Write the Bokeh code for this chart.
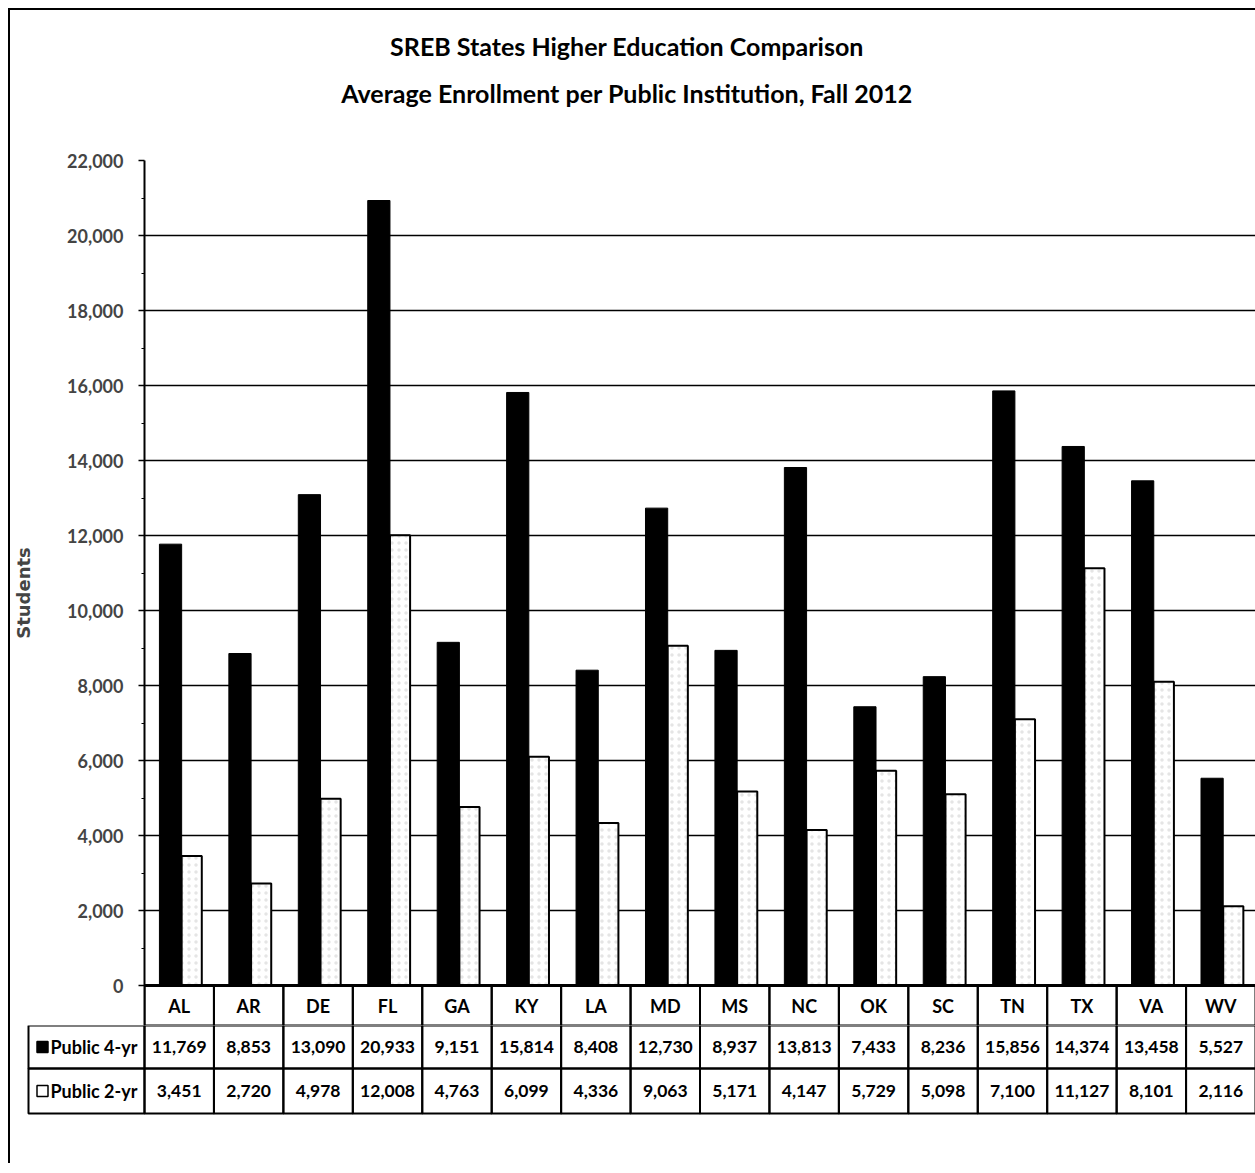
from bokeh.plotting import figure
from bokeh.models import (ColumnDataSource, FactorRange, Range1d, FixedTicker,
                          NumeralTickFormatter, Span)
from bokeh.transform import dodge
from bokeh.layouts import column
from bokeh.core.properties import value
from bokeh.embed import file_html
from bokeh.resources import INLINE

# ---------------- data ----------------
states = ["AL", "AR", "DE", "FL", "GA", "KY", "LA", "MD", "MS", "NC",
          "OK", "SC", "TN", "TX", "VA", "WV"]
public_4yr = [11769, 8853, 13090, 20933, 9151, 15814, 8408, 12730, 8937,
              13813, 7433, 8236, 15856, 14374, 13458, 5527]
public_2yr = [3451, 2720, 4978, 12008, 4763, 6099, 4336, 9063, 5171,
              4147, 5729, 5098, 7100, 11127, 8101, 2116]
series_names = ["Public 4-yr", "Public 2-yr"]
y_ticks = [0, 2000, 4000, 6000, 8000, 10000, 12000, 14000, 16000, 18000, 20000, 22000]
y_minor = [1000, 3000, 5000, 7000, 9000, 11000, 13000, 15000, 17000, 19000, 21000]
title_lines = ["SREB States Higher Education Comparison",
               "Average Enrollment per Public Institution, Fall 2012"]
y_label = "Students"

FONT = "Lato"
W = 1245
PX_PER_UNIT = 825 / 22000.0          # vertical pixels per student
HEADER_H = 40                         # header row height (px)
header_bottom = -HEADER_H / PX_PER_UNIT

src = ColumnDataSource(dict(state=states, p4=public_4yr, p2=public_2yr,
                            hb=[header_bottom] * len(states),
                            hy=[header_bottom / 2] * len(states)))

# ---------------- title strip ----------------
pT = figure(width=W, height=130, x_range=Range1d(0, 1), y_range=Range1d(130, 0),
            output_backend="svg", toolbar_location=None, min_border=0,
            min_border_right=12, x_axis_location=None, y_axis_location=None)
pT.grid.grid_line_color = None
pT.outline_line_color = None
pT.frame_align = False
tt = dict(text_font=value(FONT), text_font_style="bold", text_font_size="25px",
          text_align="center", text_baseline="middle", text_color="black")
pT.text(x=[0.5, 0.5], y=[35, 82], text=title_lines, **tt)

# ---------------- chart ----------------
pA = figure(width=W, height=885, x_range=FactorRange(factors=states, range_padding=0),
            y_range=Range1d(header_bottom, 22000), output_backend="svg",
            toolbar_location=None, min_border_left=134, min_border_right=0,
            min_border_top=20, min_border_bottom=0, x_axis_location=None)
pA.frame_align = False
pA.outline_line_color = None
pA.xgrid.grid_line_color = None
pA.ygrid.ticker = FixedTicker(ticks=y_ticks)
pA.ygrid.grid_line_color = "black"
pA.ygrid.grid_line_width = 1.7

ax = pA.yaxis[0]
ax.ticker = FixedTicker(ticks=y_ticks, minor_ticks=y_minor)
ax.formatter = NumeralTickFormatter(format="0,0")
ax.axis_line_width = 2
ax.major_tick_in = 0
ax.major_tick_out = 6
ax.minor_tick_in = 0
ax.minor_tick_out = 3
ax.major_tick_line_width = 1.5
ax.major_label_text_font = FONT
ax.major_label_text_font_style = "bold"
ax.major_label_text_font_size = "18px"
ax.major_label_standoff = 15
ax.axis_label = y_label
ax.axis_label_text_font = "DejaVu Sans"
ax.axis_label_text_font_style = "bold"
ax.axis_label_text_font_size = "18px"
ax.axis_label_standoff = 30

pA.vbar(x=dodge("state", -0.125, range=pA.x_range), top="p4", width=0.32,
        source=src, fill_color="black", line_color="black", line_width=1)
pA.vbar(x=dodge("state", 0.18, range=pA.x_range), top="p2", width=0.29,
        source=src, fill_color="white", line_color="black", line_width=2,
        hatch_pattern=".", hatch_color="#8a8a8a", hatch_alpha=0.22, hatch_scale=7)

# header row of the data table (category names)
pA.vbar(x="state", top=0, bottom="hb", width=1, source=src, fill_color=None,
        line_color="black", line_width=2)
pA.text(x="state", y="hy", text="state", source=src, text_font=value(FONT),
        text_font_style="bold", text_font_size="18px", text_align="center",
        text_baseline="middle", text_color="black")
pA.add_layout(Span(location=0, dimension="width", line_color="black", line_width=3))

# ---------------- data table rows ----------------
u = 1111 / 16.0
legend_left = (28 - 144) / u
pB = figure(width=W, height=138, x_range=Range1d((10 - 144) / u, 16),
            y_range=Range1d(138, 0), output_backend="svg", toolbar_location=None,
            min_border=0, x_axis_location=None, y_axis_location=None)
pB.frame_align = False
pB.grid.grid_line_color = None
pB.outline_line_color = None

rows = [(0, 43), (43, 88)]
idx = list(range(len(states)))
cells = dict(left=[], right=[], top=[], bottom=[])
for (t, b) in rows:
    for i in idx:
        cells["left"].append(i)
        cells["right"].append(i + 1)
        cells["top"].append(t)
        cells["bottom"].append(b)
    cells["left"].append(legend_left)
    cells["right"].append(0)
    cells["top"].append(t)
    cells["bottom"].append(b)
pB.quad(source=ColumnDataSource(cells), left="left", right="right", top="top",
        bottom="bottom", fill_color=None, line_color="black", line_width=2)

centers = [i + 0.5 for i in idx]
txt = dict(text_font=value(FONT), text_font_style="bold", text_font_size="17.5px",
           text_align="center", text_baseline="middle", text_color="black")
r1 = sum(rows[0]) / 2
r2 = sum(rows[1]) / 2
pB.text(x=centers, y=[r1] * len(states), text=[f"{v:,}" for v in public_4yr], **txt)
pB.text(x=centers, y=[r2] * len(states), text=[f"{v:,}" for v in public_2yr], **txt)

mx = (42 - 144) / u
pB.scatter(x=[mx, mx], y=[r1, r2], marker="square", size=11,
           fill_color=["black", "white"], line_color="black", line_width=1.5)
lt = dict(txt)
lt["text_align"] = "left"
lt["text_font_size"] = "18px"
pB.text(x=[(50 - 144) / u] * 2, y=[r1, r2], text=series_names, **lt)

layout = column(pT, pA, pB, spacing=0,
                styles={"margin-left": "8px", "margin-top": "8px",
                        "border-left": "2px solid black", "border-top": "2px solid black"})

open("out.html", "w").write(file_html(layout, INLINE))
